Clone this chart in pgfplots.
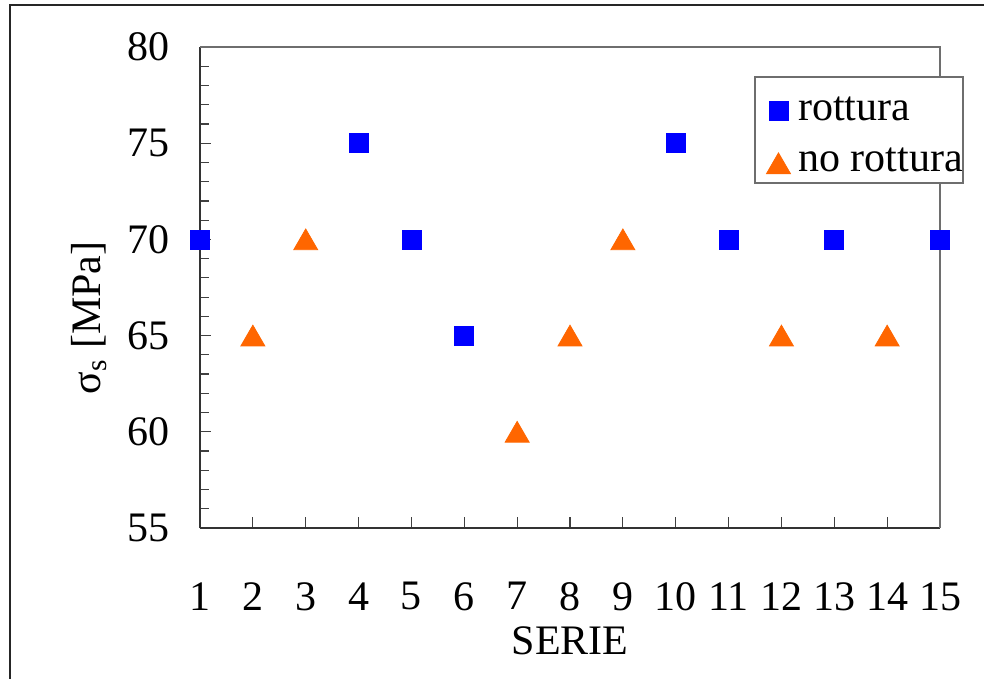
\documentclass[border=0pt]{standalone}
\usepackage{fontspec}
\setmainfont{Liberation Serif}
\usepackage{pgfplots}
\pgfplotsset{compat=1.18}
\definecolor{rblue}{RGB}{0,0,255}
\definecolor{rorange}{RGB}{255,102,0}
\definecolor{axgray}{RGB}{110,110,110}
\begin{document}
\fontsize{21}{25}\selectfont
\begin{tikzpicture}
\useasboundingbox (0,0) rectangle (492pt,-339.5pt);
\draw[line width=1pt, black!85] (4.75pt,-400pt) -- (4.75pt,-2.5pt) -- (520pt,-2.5pt);
\begin{axis}[
  at={(100pt,-264pt)}, anchor=south west,
  scale only axis, width=370pt, height=240.5pt,
  xmin=1, xmax=15, ymin=55, ymax=80,
  xtick={1,...,15}, ytick={55,60,...,80},
  minor y tick num=4,
  axis lines*=left,
  axis line style={line width=0.9pt, black!80},
  tick align=inside,
  major tick length=5.5pt, minor tick length=4.5pt,
  tick style={line width=0.6pt, black!75},
  clip=false,
  /pgf/number format/assume math mode=true,
  ticklabel style={font=\fontsize{21}{25}\selectfont},
  yticklabel style={xshift=-8pt},
  xticklabel style={yshift=-20pt},
  xlabel={SERIE},
  ylabel={σ\textsubscript{s} [MPa]},
  x label style={at={(axis description cs:0.5,-0.235)}, anchor=center, font=\fontsize{21}{25}\selectfont},
  y label style={at={(axis description cs:-0.15,0.4366)}, anchor=center, rotate=0, font=\fontsize{21}{25}\selectfont},
  legend style={at={(rel axis cs:0.75,0.9231)}, anchor=north west, draw=none, fill=none,
    font=\fontsize{21}{25}\selectfont, inner xsep=3pt, inner ysep=4pt, row sep=7pt,
    legend cell align=left},
  legend image code/.code={\path[draw=none,fill=none] (0,0) -- (0.3cm+7.9pt,0cm); \draw[#1] plot coordinates {(0.3cm,0cm)};},
]
\draw[axgray, line width=0.6pt] (rel axis cs:0,1) -- (rel axis cs:1,1) -- (rel axis cs:1,0);
\draw[axgray, line width=0.6pt, fill=white] (rel axis cs:0.75,0.9376) rectangle (rel axis cs:1.0311,0.7173);
\addplot[only marks, mark=square*, mark size=4.75pt, color=rblue] coordinates {
 (1,70) (4,75) (5,70) (6,65) (10,75) (11,70) (13,70) (15,70)};
\addlegendentry{rottura}
\addplot[only marks, mark=triangle*, mark size=6.9pt, color=rorange, mark options={yshift=-1.7pt}] coordinates {
 (2,65) (3,70) (7,60) (8,65) (9,70) (12,65) (14,65)};
\addlegendentry{no rottura}
\end{axis}
\end{tikzpicture}
\end{document}
